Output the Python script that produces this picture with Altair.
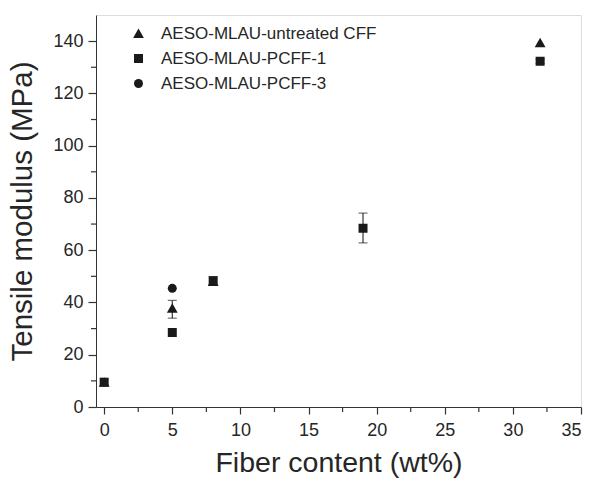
import altair as alt
import pandas as pd

# Data
series = ["AESO-MLAU-untreated CFF", "AESO-MLAU-PCFF-1", "AESO-MLAU-PCFF-3"]
shapes = ["M0,-1.1L1.2,1L-1.2,1Z", "square", "circle"]

untreated_x = [0, 5, 8, 32]
untreated_y = [9.5, 37.8, 48.0, 139.4]
untreated_lo = [9.5, 34.0, 48.0, 139.4]
untreated_hi = [9.5, 40.8, 48.0, 139.4]

pcff1_x = [0, 5, 8, 19, 32]
pcff1_y = [9.5, 28.5, 48.3, 68.4, 132.3]
pcff1_lo = [9.5, 28.5, 46.7, 62.8, 131.5]
pcff1_hi = [9.5, 28.5, 49.9, 74.2, 133.0]

pcff3_x = [5]
pcff3_y = [45.4]
pcff3_lo = [45.4]
pcff3_hi = [45.4]

# axis ticks
x_major = [0, 5, 10, 15, 20, 25, 30, 35]
x_minor = [2.5, 7.5, 12.5, 17.5, 22.5, 27.5, 32.5]
y_major = [0, 20, 40, 60, 80, 100, 120, 140]
y_minor = [10, 30, 50, 70, 90, 110, 130]

rows = []
for name, xs, ys, los, his in [
    (series[0], untreated_x, untreated_y, untreated_lo, untreated_hi),
    (series[1], pcff1_x, pcff1_y, pcff1_lo, pcff1_hi),
    (series[2], pcff3_x, pcff3_y, pcff3_lo, pcff3_hi),
]:
    for x, y, lo, hi in zip(xs, ys, los, his):
        rows.append({"series": name, "x": x, "y": y, "lo": lo, "hi": hi})
df = pd.DataFrame(rows)
err = df[df["hi"] - df["lo"] > 0.5]

W, H = 485, 392
FONT = "Liberation Sans"
TXT = "#262626"
LINE = "#333333"

xscale = alt.Scale(domain=[-0.6, 35], nice=False, zero=False)
yscale = alt.Scale(domain=[0, 150], nice=False, zero=False)

x_enc = alt.X("x:Q", scale=xscale, title="Fiber content (wt%)",
              axis=alt.Axis(values=x_major, grid=False, tickSize=7, tickWidth=1.2,
                            labelFontSize=18, labelFont=FONT, labelColor=TXT, labelPadding=7,
                            titleFontSize=28.5, titleFont=FONT, titleFontWeight="normal",
                            titleColor=TXT, titlePadding=9,
                            domainColor=LINE, tickColor=LINE))
y_enc = alt.Y("y:Q", scale=yscale, title="Tensile modulus (MPa)",
              axis=alt.Axis(values=y_major, grid=False, tickSize=8, tickWidth=1.2,
                            labelFontSize=18, labelFont=FONT, labelColor=TXT, labelPadding=5,
                            titleFontSize=29.5, titleFont=FONT, titleFontWeight="normal",
                            titleColor=TXT, titlePadding=15,
                            domainColor=LINE, tickColor=LINE))

# minor ticks
xminor = alt.Chart(pd.DataFrame({"v": x_minor})).mark_rule(color=LINE, strokeWidth=1.2, clip=False).encode(
    x=alt.X("v:Q", scale=xscale), y=alt.value(H), y2=alt.value(H + 5))
yminor = alt.Chart(pd.DataFrame({"v": y_minor})).mark_rule(color=LINE, strokeWidth=1.2, clip=False).encode(
    y=alt.Y("v:Q", scale=yscale), x=alt.value(0), x2=alt.value(-5))

bars = alt.Chart(err).mark_rule(color=LINE, strokeWidth=1.2).encode(
    x=alt.X("x:Q", scale=xscale), y=alt.Y("lo:Q", scale=yscale), y2="hi:Q")
cap_lo = alt.Chart(err).mark_tick(color=LINE, orient="horizontal", size=9, thickness=1.2).encode(
    x=alt.X("x:Q", scale=xscale), y=alt.Y("lo:Q", scale=yscale))
cap_hi = alt.Chart(err).mark_tick(color=LINE, orient="horizontal", size=9, thickness=1.2).encode(
    x=alt.X("x:Q", scale=xscale), y=alt.Y("hi:Q", scale=yscale))

points = alt.Chart(df).mark_point(filled=True, opacity=1, color="#1a1a1a", size=81).encode(
    x=x_enc, y=y_enc,
    shape=alt.Shape("series:N", scale=alt.Scale(domain=series, range=shapes),
                    legend=alt.Legend(title=None, orient="none", legendX=34, legendY=10,
                                      padding=0, labelFont=FONT, labelFontSize=17,
                                      labelColor=TXT, symbolSize=81,
                                      symbolFillColor="#1a1a1a", symbolStrokeColor="#1a1a1a",
                                      symbolStrokeWidth=0, rowPadding=7, labelOffset=14,
                                      labelLimit=400)),
)

chart = alt.layer(xminor, yminor, bars, cap_lo, cap_hi, points).properties(
    width=W, height=H,
    autosize=alt.AutoSizeParams(type="none"),
    padding={"left": 96, "top": 15, "right": 11, "bottom": 71},
).configure_view(stroke=LINE, strokeWidth=1.2).configure(background="white")

chart.save("out.html", embed_options={"renderer": "svg", "actions": False})
